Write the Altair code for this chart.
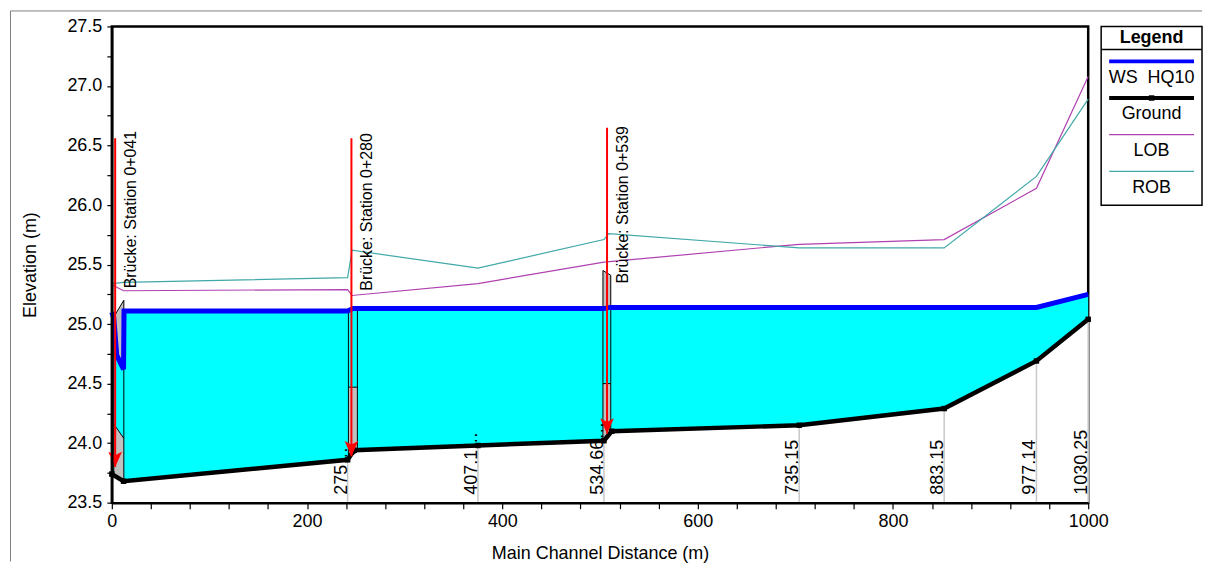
import altair as alt
import pandas as pd

FONT = "Liberation Sans"

# ---------------- data ----------------
# Water surface WS HQ10
ws_x = [0, 2, 5, 12, 12.5, 241.5, 247, 504, 510, 947, 1000]
ws_y = [25.10, 25.05, 24.74, 24.62, 25.11, 25.11, 25.13, 25.13, 25.14, 25.14, 25.25]

# Ground (channel bed)
g_x = [0, 12, 241.5, 248, 375, 504, 512, 704, 852.5, 947, 1000]
g_y = [23.74, 23.68, 23.86, 23.94, 23.98, 24.02, 24.10, 24.15, 24.29, 24.69, 25.04]

# Left / right overbank
lob_x = [0, 12, 241.5, 246, 375, 504, 704, 852.5, 947, 1000]
lob_y = [25.33, 25.28, 25.29, 25.24, 25.34, 25.52, 25.67, 25.71, 26.14, 27.08]
rob_x = [0, 12, 241.5, 246, 375, 504, 509, 704, 852.5, 947, 1000]
rob_y = [25.34, 25.35, 25.39, 25.62, 25.47, 25.71, 25.76, 25.64, 25.64, 26.24, 26.89]

# River stations (labels)
st_x = [241.5, 375, 504, 704, 852.5, 947, 1000]
st_label = ["275\u2026", "407.1\u2026", "534.66\u2026", "735.15", "883.15", "977.14", "1030.25"]

# Bridges
br_name = ["Brücke: Station 0+041", "Brücke: Station 0+280", "Brücke: Station 0+539"]
br_x = [3.4, 245.4, 507.2]
br_top = [26.56, 26.56, 26.65]
br_tip = [23.80, 23.89, 24.08]
br_text_y = [25.30, 25.28, 25.34]
br_left = [2.0, 242.3, 503.0]
br_right = [12.3, 251.5, 511.0]
br_hc_left = [25.06, 25.12, 25.45]
br_hc_right = [25.20, 25.12, 25.41]
br_lc_left = [24.16, 24.47, 24.50]
br_lc_right = [24.04, 24.47, 24.50]
br_gr_left = [23.73, 23.87, 24.02]
br_gr_right = [23.68, 23.93, 24.09]

y_tick_values = [23.5, 23.75, 24.0, 24.25, 24.5, 24.75, 25.0, 25.25, 25.5,
                 25.75, 26.0, 26.25, 26.5, 26.75, 27.0, 27.25, 27.5]
x_tick_values = [0, 40, 80, 120, 160, 200, 240, 280, 320, 360, 400, 440, 480,
                 520, 560, 600, 640, 680, 720, 760, 800, 840, 880, 920, 960, 1000]

legend_names = ["WS\u00a0\u00a0HQ10", "Ground", "LOB", "ROB"]
legend_colors = ["#0000FF", "#000000", "#B040B0", "#40A8A8"]

# ---------------- tables ----------------
BASE = 23.5
ws_df = pd.DataFrame({"x": ws_x, "y": ws_y, "b": BASE})
g_df = pd.DataFrame({"x": g_x, "y": g_y, "b": BASE})
bank_df = pd.concat([
    pd.DataFrame({"x": lob_x, "y": lob_y, "s": "LOB"}),
    pd.DataFrame({"x": rob_x, "y": rob_y, "s": "ROB"}),
])
gmap = dict(zip(g_x, g_y))
st_df = pd.DataFrame({"x": st_x, "t": st_label, "b": BASE,
                      "g": [gmap[v] for v in st_x]})

deck_rows, pier_rows, outline_rows, lc_rows = [], [], [], []
for i in range(len(br_name)):
    deck_rows += [{"id": i, "x": br_left[i], "hc": br_hc_left[i], "lc": br_lc_left[i]},
                  {"id": i, "x": br_right[i], "hc": br_hc_right[i], "lc": br_lc_right[i]}]
    pier_rows += [{"id": i, "x": br_left[i], "lc": br_lc_left[i], "gr": br_gr_left[i]},
                  {"id": i, "x": br_right[i], "lc": br_lc_right[i], "gr": br_gr_right[i]}]
    pts = [(br_left[i], br_hc_left[i]), (br_right[i], br_hc_right[i]),
           (br_right[i], br_gr_right[i]), (br_left[i], br_gr_left[i]),
           (br_left[i], br_hc_left[i])]
    for k, (px, py) in enumerate(pts):
        outline_rows.append({"id": i, "k": k, "x": px, "y": py})
    lc_rows += [{"id": i, "x": br_left[i], "y": br_lc_left[i]},
                {"id": i, "x": br_right[i], "y": br_lc_right[i]}]
deck_df = pd.DataFrame(deck_rows)
pier_df = pd.DataFrame(pier_rows)
outline_df = pd.DataFrame(outline_rows)
lc_df = pd.DataFrame(lc_rows)
br_df = pd.DataFrame({"x": br_x, "top": br_top, "tip": br_tip,
                      "t": br_name, "ty": br_text_y})

# ---------------- scales & axes ----------------
xs = alt.Scale(domain=[0, 1000], nice=False, zero=False)
ys = alt.Scale(domain=[23.5, 27.5], nice=False, zero=False)
xaxis = alt.Axis(values=x_tick_values, format="d",
                 labelExpr="datum.value % 200 == 0 ? datum.label : ''",
                 tickSize=6, labelPadding=4, titlePadding=14, labelFlush=False,
                 labelOverlap=False, grid=False, zindex=1)
yaxis = alt.Axis(values=y_tick_values, format=".1f",
                 labelExpr="round(datum.value * 100) % 50 == 0 ? datum.label : ''",
                 tickSize=5, labelPadding=5, titlePadding=27, labelFlush=False,
                 labelOverlap=False, grid=False, zindex=1)
XT = "Main Channel Distance (m)"
YT = "Elevation (m)"


def X(f="x"):
    return alt.X(f"{f}:Q", scale=xs, axis=xaxis, title=XT)


def Y(f):
    return alt.Y(f"{f}:Q", scale=ys, axis=yaxis, title=YT)


one = pd.DataFrame({"a": [0]})
frame_top = alt.Chart(one).mark_rule(color="#808080", strokeWidth=1).encode(
    x=alt.value(-101.5), x2=alt.value(1092), y=alt.value(-15.5))
frame_left = alt.Chart(one).mark_rule(color="#808080", strokeWidth=1).encode(
    x=alt.value(-101.5), y=alt.value(-15.5), y2=alt.value(536))

deck_fill = alt.Chart(deck_df).mark_area(color="#C0C0C0").encode(
    x=X(), y=Y("hc"), y2="lc:Q", detail="id:N")
water = alt.Chart(ws_df).mark_area(color="#00FFFF").encode(x=X(), y=Y("y"), y2="b:Q")
below_ground = alt.Chart(g_df).mark_area(color="#FFFFFF").encode(x=X(), y=Y("y"), y2="b:Q")
pier_fill = alt.Chart(pier_df).mark_area(color="#C0C0C0").encode(
    x=X(), y=Y("lc"), y2="gr:Q", detail="id:N")
st_rules = alt.Chart(st_df).mark_rule(color="#C8C8C8", strokeWidth=1.5).encode(
    x=X(), y=Y("b"), y2="g:Q")
outline = alt.Chart(outline_df).mark_line(color="#000000", strokeWidth=1).encode(
    x=X(), y=Y("y"), detail="id:N", order="k:Q")
low_chord = alt.Chart(lc_df).mark_line(color="#000000", strokeWidth=1).encode(
    x=X(), y=Y("y"), detail="id:N")
banks = alt.Chart(bank_df).mark_line(strokeWidth=1.2).encode(
    x=X(), y=Y("y"),
    color=alt.Color("s:N", scale=alt.Scale(domain=["LOB", "ROB"],
                                           range=[legend_colors[2], legend_colors[3]]),
                    legend=None))
ws_line = alt.Chart(ws_df).mark_line(color="#0000FF", strokeWidth=5).encode(x=X(), y=Y("y"))
g_line = alt.Chart(g_df).mark_line(color="#000000", strokeWidth=4.5).encode(x=X(), y=Y("y"))
g_pts = alt.Chart(g_df).mark_point(shape="square", filled=True, color="#000000",
                                   size=30, opacity=1).encode(x=X(), y=Y("y"))
arrows = alt.Chart(br_df).mark_rule(color="#FF0000", strokeWidth=2).encode(
    x=X(), y=Y("top"), y2="tip:Q")
heads = alt.Chart(br_df).mark_point(
    shape="M0,1L-0.85,-0.9L0,-0.45L0.85,-0.9Z", filled=True, color="#FF0000",
    size=260, opacity=1, yOffset=-8).encode(x=X(), y=Y("tip"))
br_text = alt.Chart(br_df).mark_text(
    angle=270, align="left", baseline="alphabetic", dy=21, font=FONT,
    fontSize=16, color="#000000").encode(x=X(), y=Y("ty"), text="t:N")
st_text = alt.Chart(st_df).mark_text(
    angle=270, align="left", baseline="alphabetic", dx=8, dy=-1, font=FONT,
    fontSize=18, color="#000000").encode(x=X(), y=Y("b"), text="t:N")

main = alt.layer(
    frame_top, frame_left, deck_fill, water, below_ground, pier_fill, st_rules,
    outline, low_chord, banks, ws_line, g_line, g_pts, arrows, heads, br_text, st_text
).properties(width=978, height=477,
             view=alt.ViewBackground(stroke="#000000", strokeWidth=2.5))

# ---------------- legend panel ----------------
LW, LH = 101, 179
row_line_y = [35 + 36.7 * i for i in range(len(legend_names))]
leg_df = pd.DataFrame({"name": legend_names, "ly": row_line_y,
                       "ty": [v + 16.5 for v in row_line_y],
                       "x1": 8, "x2": LW - 8, "xc": LW / 2,
                       "w": [4, 4, 1.2, 1.2]})
lxs = alt.Scale(domain=[0, LW], nice=False, zero=False)
lys = alt.Scale(domain=[0, LH], nice=False, zero=False, reverse=True)
lcol = alt.Scale(domain=legend_names, range=legend_colors)

leg_head = alt.Chart(pd.DataFrame({"x": [LW / 2], "y": [11.5], "t": ["Legend"]})).mark_text(
    font=FONT, fontSize=18, fontWeight="bold", color="#000000", baseline="middle"
).encode(x=alt.X("x:Q", scale=lxs, axis=None), y=alt.Y("y:Q", scale=lys, axis=None), text="t:N")
leg_div = alt.Chart(pd.DataFrame({"x": [0], "x2": [LW], "y": [23]})).mark_rule(
    color="#000000", strokeWidth=1.5
).encode(x=alt.X("x:Q", scale=lxs, axis=None), x2="x2:Q",
         y=alt.Y("y:Q", scale=lys, axis=None))
leg_lines = alt.Chart(leg_df).mark_rule().encode(
    x=alt.X("x1:Q", scale=lxs, axis=None), x2="x2:Q",
    y=alt.Y("ly:Q", scale=lys, axis=None),
    color=alt.Color("name:N", scale=lcol, legend=None),
    strokeWidth=alt.StrokeWidth("w:Q", scale=None))
leg_mark = alt.Chart(leg_df[leg_df["name"] == "Ground"]).mark_point(
    shape="square", filled=True, color="#000000", size=30, opacity=1
).encode(x=alt.X("xc:Q", scale=lxs, axis=None), y=alt.Y("ly:Q", scale=lys, axis=None))
leg_text = alt.Chart(leg_df).mark_text(
    font=FONT, fontSize=18, color="#000000", baseline="middle"
).encode(x=alt.X("xc:Q", scale=lxs, axis=None), y=alt.Y("ty:Q", scale=lys, axis=None),
         text="name:N")

legend_panel = alt.layer(leg_head, leg_div, leg_lines, leg_mark, leg_text).properties(
    width=LW, height=LH, view=alt.ViewBackground(stroke="#000000", strokeWidth=1.5))

chart = alt.hconcat(main, legend_panel, spacing=13, bounds="flush",
                    padding={"left": 0, "top": 0, "right": 0, "bottom": 0}
).resolve_scale(color="independent").configure_axis(
    labelFont=FONT, titleFont=FONT, labelFontSize=18, titleFontSize=18,
    titleFontWeight="normal", labelColor="#000000", titleColor="#000000",
    domainColor="#000000", domainWidth=2.5, tickColor="#000000", tickWidth=1.2
).configure_view(stroke="#000000")

chart.save("out.html", embed_options={"renderer": "svg", "actions": False})
